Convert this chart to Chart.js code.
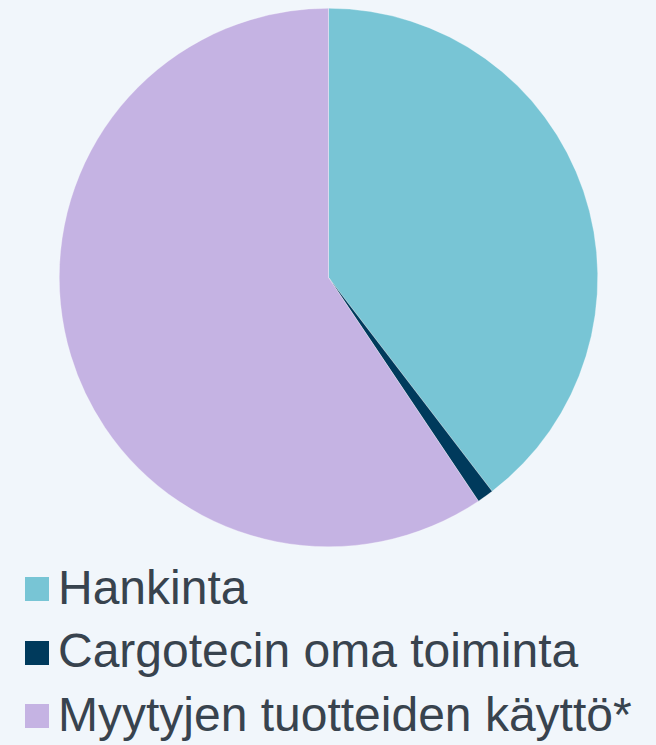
<!DOCTYPE html>
<html>
<head>
<meta charset="utf-8">
<script src="https://cdn.jsdelivr.net/npm/chart.js@4/dist/chart.umd.min.js"></script>
<style>
  html, body { margin: 0; padding: 0; background: #f1f6fb; }
  #wrap { position: relative; width: 656px; height: 745px; overflow: hidden; }
  #chartBox { position: absolute; left: 0; top: 0; width: 656px; height: 555px; }
  .item { position: absolute; left: 25px; height: 48px; }
  .box { position: absolute; left: 0; width: 24px; height: 24px; }
  .lbl { position: absolute; left: 33px; top: 0; white-space: nowrap;
         font-family: "Liberation Sans", Arial, sans-serif; font-size: 48px; line-height: 48px; color: #38434e; }
</style>
</head>
<body>
<div id="wrap">
  <div id="chartBox"><canvas id="c"></canvas></div>
  <div id="legend"></div>
</div>
<script>
const categories = ["Hankinta", "Cargotecin oma toiminta", "Myytyjen tuotteiden käyttö*"];
const shares = [39.6, 1.0, 59.4];
const sliceColors = ["#78c5d5", "#003a5c", "#c5b3e3"];

new Chart(document.getElementById('c'), {
  type: 'pie',
  data: {
    labels: categories,
    datasets: [{
      data: shares,
      backgroundColor: sliceColors,
      borderColor: 'rgba(255,255,255,0.6)',
      borderWidth: 0.5
    }]
  },
  options: {
    responsive: true,
    maintainAspectRatio: false,
    animation: false,
    layout: { padding: { top: 8, bottom: 8, left: 1, right: 0 } },
    plugins: { legend: { display: false }, tooltip: { enabled: false } }
  }
});

const legend = document.getElementById('legend');
categories.forEach((name, i) => {
  const item = document.createElement('div');
  item.className = 'item';
  item.style.top = (563.5 + i * 63.5) + 'px';
  const box = document.createElement('div');
  box.className = 'box';
  box.style.top = '13.5px';
  box.style.background = sliceColors[i];
  const lbl = document.createElement('div');
  lbl.className = 'lbl';
  lbl.textContent = name;
  item.appendChild(box);
  item.appendChild(lbl);
  legend.appendChild(item);
});
</script>
</body>
</html>
